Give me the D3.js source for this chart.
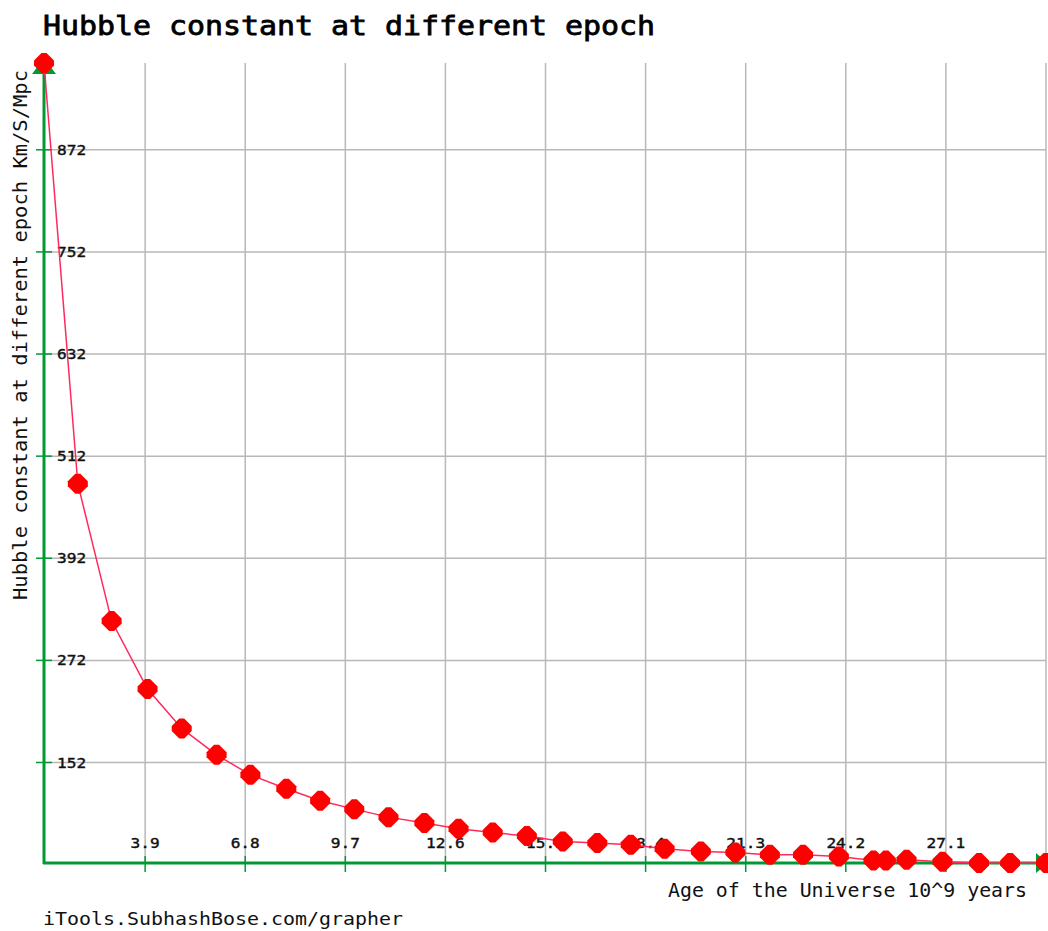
<!DOCTYPE html>
<html>
<head>
<meta charset="utf-8">
<script src="https://cdn.jsdelivr.net/npm/d3@7"></script>
<style>
  body { margin: 0; background: #fff; }
  svg { display: block; }
</style>
</head>
<body>
<div id="chart"></div>
<script>
// age of the universe (10^9 years)
const ages = [0.97, 1.95, 2.93, 3.97, 4.96, 5.97, 6.95, 7.99, 8.97, 9.96,
    10.95, 11.99, 12.98, 13.97, 14.96, 16.0, 17.0, 17.97, 18.95, 20.0,
    21.0, 22.0, 22.96, 24.0, 25.0, 25.36, 25.96, 27.0, 28.06, 28.96, 30.0];
// Hubble constant (Km/S/Mpc)
const hubble = [974, 479.5, 318.2, 238.3, 192, 161, 137.5, 121.1, 107, 97.2,
    87.8, 80.8, 74.1, 69.7, 65.5, 59.2, 57.3, 55.3, 50.6, 47.4,
    46.2, 43.5, 43.5, 41.5, 36.9, 36.9, 37.7, 35.4, 33.9, 33.9, 33.9];
const xTicks = [3.9, 6.8, 9.7, 12.6, 15.5, 18.4, 21.3, 24.2, 27.1];
const yTicks = [152, 272, 392, 512, 632, 752, 872];

const width = 1048, height = 931;
const plotLeft = 44, plotRight = 1046, plotTop = 63, plotBottom = 863;
const green = "#009933";

const svg = d3.select("#chart").append("svg")
    .attr("width", width)
    .attr("height", height);

const x = d3.scaleLinear().domain([ages[0], ages[ages.length - 1]]).range([plotLeft, plotRight]);
const y = d3.scaleLinear().domain(d3.extent(hubble)).range([plotBottom, plotTop]);

const data = ages.map((a, i) => ({ age: a, h: hubble[i] }));

// griglia
const grid = svg.append("g").attr("stroke", "#b8b8b8").attr("stroke-width", 1.5);
grid.selectAll("line.v")
    .data(xTicks.concat([x.domain()[1]]))
    .enter().append("line")
    .attr("class", "v")
    .attr("x1", d => x(d)).attr("x2", d => x(d))
    .attr("y1", plotTop).attr("y2", plotBottom);
grid.selectAll("line.h")
    .data(yTicks)
    .enter().append("line")
    .attr("class", "h")
    .attr("x1", plotLeft).attr("x2", plotRight)
    .attr("y1", d => y(d)).attr("y2", d => y(d));

// assi verdi
const axes = svg.append("g").attr("stroke", green).attr("stroke-width", 3);
axes.append("line").attr("x1", plotLeft).attr("x2", plotLeft).attr("y1", plotTop).attr("y2", plotBottom + 1);
axes.append("line").attr("x1", plotLeft - 1).attr("x2", plotRight - 6).attr("y1", plotBottom).attr("y2", plotBottom);

const tickMarks = svg.append("g").attr("stroke", green).attr("stroke-width", 1.5);
tickMarks.selectAll("line.xt")
    .data(xTicks)
    .enter().append("line")
    .attr("class", "xt")
    .attr("x1", d => x(d)).attr("x2", d => x(d))
    .attr("y1", plotBottom - 7).attr("y2", plotBottom + 9);
tickMarks.selectAll("line.yt")
    .data(yTicks)
    .enter().append("line")
    .attr("class", "yt")
    .attr("x1", plotLeft - 8).attr("x2", plotLeft + 8)
    .attr("y1", d => y(d)).attr("y2", d => y(d));

// frecce
svg.append("path")
    .attr("d", `M${plotLeft},${plotTop - 5} L${plotLeft + 12},${plotTop + 11} L${plotLeft - 12},${plotTop + 11} Z`)
    .attr("fill", green);
svg.append("path")
    .attr("d", `M${plotRight + 2},${plotBottom} L${plotRight - 10},${plotBottom - 10} L${plotRight - 10},${plotBottom + 10} Z`)
    .attr("fill", green);

// etichette dei tick
const tickFont = "'DejaVu Sans Mono', monospace";
svg.append("g").selectAll("text")
    .data(yTicks)
    .enter().append("text")
    .attr("x", plotLeft + 13)
    .attr("y", d => y(d) + 5)
    .attr("font-family", tickFont)
    .attr("font-size", "14px")
    .attr("stroke", "#111")
    .attr("stroke-width", 0.4)
    .attr("textLength", d => String(d).length * 9.7)
    .attr("lengthAdjust", "spacingAndGlyphs")
    .attr("fill", "#111")
    .text(d => d);
svg.append("g").selectAll("text")
    .data(xTicks)
    .enter().append("text")
    .attr("x", d => x(d))
    .attr("y", plotBottom - 15)
    .attr("text-anchor", "middle")
    .attr("font-family", tickFont)
    .attr("font-size", "14px")
    .attr("stroke", "#111")
    .attr("stroke-width", 0.4)
    .attr("textLength", d => d.toFixed(1).length * 9.7)
    .attr("lengthAdjust", "spacingAndGlyphs")
    .attr("fill", "#111")
    .text(d => d.toFixed(1));

// linea e marcatori
const line = d3.line().x(d => x(d.age)).y(d => y(d.h));
svg.append("path")
    .datum(data)
    .attr("d", line)
    .attr("fill", "none")
    .attr("stroke", "#ff2a5c")
    .attr("stroke-width", 1.5);

const octo = {
    draw(ctx, size) {
        const r = Math.sqrt(size) / 2, s = r / 4;
        ctx.moveTo(-s, -r); ctx.lineTo(s, -r); ctx.lineTo(r, -s); ctx.lineTo(r, s);
        ctx.lineTo(s, r); ctx.lineTo(-s, r); ctx.lineTo(-r, s); ctx.lineTo(-r, -s);
        ctx.closePath();
    }
};
svg.append("g").selectAll("path")
    .data(data)
    .enter().append("path")
    .attr("transform", d => `translate(${x(d.age)},${y(d.h)})`)
    .attr("d", d3.symbol().type(octo).size(20 * 20))
    .attr("fill", "#ff0000");

// testi
const textFont = "'DejaVu Sans Mono', 'Liberation Mono', monospace";
svg.append("text")
    .attr("x", 43).attr("y", 35)
    .attr("font-family", textFont)
    .attr("font-size", "27px")
    .attr("stroke", "#000")
    .attr("stroke-width", 0.8)
    .attr("textLength", 612)
    .attr("lengthAdjust", "spacingAndGlyphs")
    .attr("fill", "#000")
    .text("Hubble constant at different epoch");

svg.append("text")
    .attr("transform", "translate(27,335) rotate(-90)")
    .attr("text-anchor", "middle")
    .attr("font-family", textFont)
    .attr("font-size", "19px")
    .attr("textLength", 530)
    .attr("lengthAdjust", "spacingAndGlyphs")
    .attr("fill", "#111")
    .text("Hubble constant at different epoch Km/S/Mpc");

svg.append("text")
    .attr("x", 668).attr("y", 897)
    .attr("font-family", textFont)
    .attr("font-size", "19px")
    .attr("textLength", 359)
    .attr("lengthAdjust", "spacingAndGlyphs")
    .attr("fill", "#111")
    .text("Age of the Universe 10^9 years");

svg.append("text")
    .attr("x", 43).attr("y", 925)
    .attr("font-family", textFont)
    .attr("font-size", "18px")
    .attr("textLength", 360)
    .attr("lengthAdjust", "spacingAndGlyphs")
    .attr("fill", "#111")
    .text("iTools.SubhashBose.com/grapher");
</script>
</body>
</html>
